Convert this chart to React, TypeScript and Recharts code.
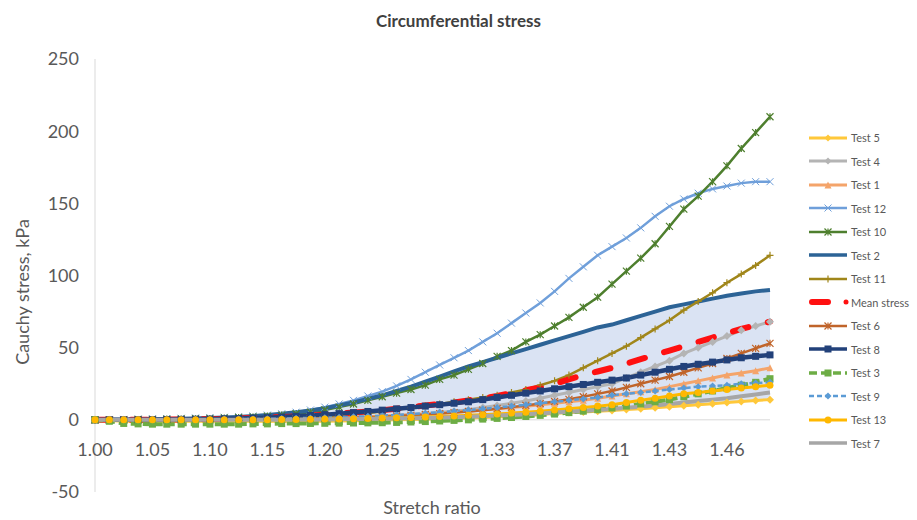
import { ComposedChart, Line, Area, XAxis, YAxis, ReferenceLine } from 'recharts'

// stretch ratio per sample (category axis, labelled every 4th)
const stretch = [
  '1.00', '1.01', '1.03', '1.04', '1.05', '1.06', '1.08', '1.09', '1.10', '1.11', '1.13', '1.14',
  '1.15', '1.16', '1.18', '1.19', '1.20', '1.21', '1.23', '1.24', '1.25', '1.26', '1.27', '1.28',
  '1.29', '1.30', '1.31', '1.32', '1.33', '1.34', '1.35', '1.36', '1.37', '1.38', '1.39', '1.40',
  '1.41', '1.41', '1.42', '1.42', '1.43', '1.44', '1.44', '1.45', '1.46', '1.46', '1.47', '1.47',
]

// Cauchy stress, kPa
const test5 = [
  0, -0.5, -1, -1, -1, -1, -1, -1, -1, -1, -1, -1,
  -1, -1, -1, -1, -1, -0.8, -0.6, -0.4, -0.2, 0, 0.2, 0.4,
  0.7, 1.0, 1.3, 1.6, 2.0, 2.5, 3.0, 3.5, 4.5, 5.0, 5.5, 6.0,
  6.5, 7.1, 7.7, 8.3, 9.0, 9.7, 10.4, 11.2, 12.0, 12.7, 13.4, 14,
]
const test4 = [
  0, 0, 0, 0, 0, 0, 0, 0.1, 0.2, 0.3, 0.4, 0.5,
  0.6, 0.7, 0.8, 1.0, 1.2, 1.4, 1.7, 2.0, 2.4, 2.9, 3.5, 4.2,
  5, 6, 7, 8.5, 10, 11.5, 13, 15, 17, 19, 21, 23,
  25, 29, 33, 37, 41, 46, 50, 54, 58, 62, 65, 68,
]
const test1 = [
  0, 0, 0, 0, 0, 0, 0.1, 0.2, 0.3, 0.4, 0.5, 0.6,
  0.7, 0.8, 1.0, 1.2, 1.4, 1.6, 1.9, 2.2, 2.6, 3.0, 3.5, 4.0,
  4.5, 5.2, 6.0, 6.8, 7.6, 8.5, 9.4, 10.5, 11.5, 12.5, 13.5, 15,
  16.5, 18, 19.5, 21, 23, 25, 27, 29, 31, 32.5, 34, 36,
]
const test12 = [
  0, 0, 0.3, 0.5, 0.7, 0.9, 1.1, 1.3, 1.5, 1.8, 2.2, 2.7,
  3.3, 4.2, 5.3, 6.8, 8.8, 11, 13.5, 16.5, 19.5, 23.5, 28, 33,
  38, 43, 48, 54, 60, 67, 74, 81, 89, 98, 106, 114,
  120, 126, 133, 141, 148, 153, 157, 160, 162, 164, 165, 165,
]
const test10 = [
  0, 0, 0, 0.2, 0.3, 0.5, 0.6, 0.8, 1.0, 1.3, 1.6, 2.0,
  2.6, 3.3, 4.2, 5.3, 6.8, 8.8, 11, 13.5, 16, 18.5, 21, 24,
  28, 31, 35, 39, 44, 48, 54, 59, 65, 71, 78, 85,
  94, 103, 112, 122, 134, 146, 155, 165, 176, 188, 199, 210,
]
const test2 = [
  0, 0, 0, 0.2, 0.4, 0.6, 0.8, 1.0, 1.3, 1.6, 2.0, 2.6,
  3.3, 4.2, 5.2, 6.5, 8, 10, 12, 14.5, 17, 20, 23, 26.5,
  30, 33.5, 37, 40, 43, 46, 49, 52, 55, 58, 61, 64,
  66, 69, 72, 75, 78, 80, 82, 84, 86, 87.5, 89, 90,
]
const test11 = [
  0, 0, 0, 0, 0, 0.1, 0.2, 0.3, 0.4, 0.5, 0.6, 0.8,
  1.0, 1.3, 1.6, 2.0, 2.6, 3.3, 4.0, 4.8, 5.8, 7.0, 8.3, 9.5,
  11, 12.5, 14, 15.5, 17, 19, 21, 24, 27, 31, 36, 41,
  46, 51, 57, 63, 69, 76, 82, 88, 95, 101, 107, 114,
]
const meanStress = [
  0, 0, 0, 0, 0.1, 0.2, 0.3, 0.4, 0.5, 0.7, 0.9, 1.2,
  1.5, 1.9, 2.4, 3.0, 3.6, 4.3, 5.0, 5.8, 6.7, 7.7, 8.8, 10,
  11, 12, 13.5, 15, 16.5, 18.5, 20.5, 22.5, 25, 28, 31, 33.5,
  36, 39, 42, 45, 48, 51, 54, 57, 60, 63, 65.5, 68,
]
const test6 = [
  0, 0, 0, 0, 0, 0, 0, 0, 0, 0.1, 0.2, 0.3,
  0.4, 0.5, 0.6, 0.8, 1.0, 1.2, 1.5, 1.8, 2.2, 2.6, 3.1, 3.7,
  4.3, 5.0, 5.8, 6.7, 7.7, 8.8, 10, 11.3, 12.7, 14.2, 16, 18,
  20, 22.5, 25, 27.5, 30, 33, 36, 39, 42.5, 46, 49.5, 53,
]
const test8 = [
  0, 0, 0, 0, 0.1, 0.2, 0.3, 0.4, 0.5, 0.7, 0.9, 1.2,
  1.5, 1.9, 2.4, 3.0, 3.6, 4.3, 5.0, 5.8, 6.7, 7.6, 8.5, 9.5,
  10.5, 11.5, 12.5, 14, 15.5, 17, 18.5, 20, 21.5, 23, 24.5, 26,
  27.5, 29, 31, 33, 35, 37, 38.5, 40, 41.5, 43, 44, 45,
]
const test3 = [
  0, -1, -2.5, -2.8, -3, -3, -3, -3, -3, -3, -3, -2.8,
  -2.8, -2.6, -2.6, -2.5, -2.4, -2.3, -2.2, -2.1, -2, -1.8, -1.5, -1.2,
  -0.8, -0.4, 0, 0.5, 1.0, 1.6, 2.3, 3.1, 4.0, 5.0, 6.0, 7.0,
  8.2, 9.5, 11, 12.5, 14, 16, 18, 20, 22, 24, 26, 28.5,
]
const test9 = [
  0, 0, 0, 0, 0, 0, 0.1, 0.2, 0.3, 0.4, 0.5, 0.6,
  0.7, 0.9, 1.1, 1.3, 1.5, 1.8, 2.1, 2.5, 2.9, 3.4, 4.0, 4.6,
  5.3, 6.0, 6.8, 7.6, 8.5, 9.5, 10.5, 11.5, 12.5, 13.5, 14.5, 15.5,
  17, 18, 19, 20, 21, 22, 23, 23.5, 24, 25, 25.5, 26,
]
const test13 = [
  0, 0, 0, 0, 0, 0, 0, 0, 0, 0, 0, 0,
  0.1, 0.2, 0.3, 0.4, 0.5, 0.6, 0.8, 1.0, 1.2, 1.4, 1.7, 2.0,
  2.3, 2.7, 3.1, 3.6, 4.1, 4.7, 5.3, 6.0, 6.8, 7.6, 8.5, 9.5,
  10.5, 12, 13.5, 15, 16.5, 18, 19, 20, 21, 22, 23, 24,
]
const test7 = [
  0, 0, 0, 0, 0, 0, 0, 0, 0, 0, 0, 0,
  0.1, 0.1, 0.2, 0.2, 0.3, 0.4, 0.5, 0.6, 0.7, 0.9, 1.1, 1.3,
  1.5, 1.8, 2.1, 2.5, 3.0, 3.4, 3.9, 4.4, 5.0, 5.6, 6.2, 6.8,
  7.5, 8.3, 9.1, 10, 11, 12, 13, 14, 15, 16.3, 17.6, 19,
]

const yTicks = [-50, 0, 50, 100, 150, 200, 250]

type Shape = 'diamond' | 'triangle' | 'x' | 'star' | 'plus' | 'square' | 'circle' | 'none'

const series: {
  key: string
  name: string
  values: number[]
  color: string
  width: number
  dash?: string
  marker: Shape
  markerSize?: number
  cap?: 'round' | 'butt'
}[] = [
  { key: 't5', name: 'Test 5', values: test5, color: '#FFC83A', width: 3, marker: 'diamond', markerSize: 8 },
  { key: 't4', name: 'Test 4', values: test4, color: '#B4B4B4', width: 3, marker: 'diamond', markerSize: 8 },
  { key: 't1', name: 'Test 1', values: test1, color: '#F4A46A', width: 3, marker: 'triangle', markerSize: 7 },
  { key: 't12', name: 'Test 12', values: test12, color: '#6F9FDA', width: 2.5, marker: 'x', markerSize: 7 },
  { key: 't10', name: 'Test 10', values: test10, color: '#4E7F2E', width: 2.5, marker: 'star', markerSize: 7 },
  { key: 't2', name: 'Test 2', values: test2, color: '#2C6396', width: 4, marker: 'none' },
  { key: 't11', name: 'Test 11', values: test11, color: '#A0861A', width: 2.5, marker: 'plus', markerSize: 7 },
  { key: 'mean', name: 'Mean stress', values: meanStress, color: '#FF1010', width: 6, dash: '16 20', marker: 'none', cap: 'round' },
  { key: 't6', name: 'Test 6', values: test6, color: '#C0642A', width: 2.5, marker: 'star', markerSize: 7 },
  { key: 't8', name: 'Test 8', values: test8, color: '#22417A', width: 4.5, marker: 'square', markerSize: 7 },
  { key: 't3', name: 'Test 3', values: test3, color: '#6DAD45', width: 4, dash: '8 4', marker: 'square', markerSize: 7 },
  { key: 't9', name: 'Test 9', values: test9, color: '#5B9BD5', width: 2.5, dash: '5 3', marker: 'diamond', markerSize: 7 },
  { key: 't13', name: 'Test 13', values: test13, color: '#FFB800', width: 3, marker: 'circle', markerSize: 7 },
  { key: 't7', name: 'Test 7', values: test7, color: '#A6A6A6', width: 4, marker: 'none' },
]

const data = stretch.map((s, i) => {
  const row: Record<string, any> = { stretch: s, band: [test5[i], test2[i]] }
  series.forEach((sr) => {
    row[sr.key] = sr.values[i]
  })
  return row
})

const FONT = 'Lato, "Liberation Sans", Arial, sans-serif'
const TEXT = '#595959'

const CHART_W = 917
const CHART_H = 520
const PLOT_TOP = 59
const PLOT_BOTTOM = 492
const Y_MIN = -50
const Y_MAX = 250
const ZERO_Y = PLOT_TOP + ((PLOT_BOTTOM - PLOT_TOP) * Y_MAX) / (Y_MAX - Y_MIN)

function Marker({ cx, cy, shape, color, size = 6 }: { cx: number; cy: number; shape: Shape; color: string; size?: number }) {
  const h = size / 2
  switch (shape) {
    case 'diamond':
      return <path d={`M${cx},${cy - h}L${cx + h},${cy}L${cx},${cy + h}L${cx - h},${cy}Z`} fill={color} />
    case 'triangle':
      return <path d={`M${cx},${cy - h}L${cx + h},${cy + h}L${cx - h},${cy + h}Z`} fill={color} />
    case 'square':
      return <rect x={cx - h} y={cy - h} width={size} height={size} fill={color} />
    case 'circle':
      return <circle cx={cx} cy={cy} r={h} fill={color} />
    case 'x':
      return (
        <path
          d={`M${cx - h},${cy - h}L${cx + h},${cy + h}M${cx + h},${cy - h}L${cx - h},${cy + h}`}
          stroke={color}
          strokeWidth={1}
          fill="none"
        />
      )
    case 'plus':
      return <path d={`M${cx},${cy - h}L${cx},${cy + h}M${cx - h},${cy}L${cx + h},${cy}`} stroke={color} strokeWidth={1.2} fill="none" />
    case 'star':
      return (
        <path
          d={`M${cx - h},${cy - h}L${cx + h},${cy + h}M${cx + h},${cy - h}L${cx - h},${cy + h}M${cx},${cy - h}L${cx},${cy + h}`}
          stroke={color}
          strokeWidth={1.2}
          fill="none"
        />
      )
    default:
      return null
  }
}

// category labels sit just under the zero line instead of the plot bottom
function StretchTick(props: any) {
  const { x, y, payload } = props
  const lift = PLOT_BOTTOM - ZERO_Y
  return (
    <text x={x} y={y - 8 - lift + 36} textAnchor="middle" fill={TEXT} fontSize={18} fontFamily={FONT}>
      {payload.value}
    </text>
  )
}

function SeriesLegend() {
  return (
    <div style={{ position: 'absolute', left: 808, top: 126, fontFamily: FONT, fontSize: 11, color: TEXT }}>
      {series.map((s) => {
        const isMean = s.key === 'mean'
        const legendShape: Shape = isMean ? 'circle' : s.marker
        return (
          <div key={s.key} style={{ display: 'flex', alignItems: 'center', height: 23.5 }}>
            <svg width={42} height={12} style={{ marginRight: 1 }}>
              <line
                x1={isMean ? 4 : 1}
                y1={6}
                x2={isMean ? 20 : 39}
                y2={6}
                stroke={s.color}
                strokeWidth={isMean ? 6 : Math.min(s.width, 3.5)}
                strokeDasharray={isMean ? undefined : s.dash}
                strokeLinecap={isMean ? 'round' : 'butt'}
              />
              <Marker cx={isMean ? 38 : 20} cy={6} shape={legendShape} color={s.color} size={isMean ? 5 : 7} />
            </svg>
            <span>{s.name}</span>
          </div>
        )
      })}
    </div>
  )
}

export default function App() {
  return (
    <div style={{ position: 'absolute', left: 0, top: 0, width: CHART_W, height: CHART_H, background: '#fff', overflow: 'hidden' }}>
      <div
        style={{
          position: 'absolute',
          top: 10,
          left: 0,
          width: CHART_W,
          textAlign: 'center',
          fontFamily: FONT,
          fontWeight: 700,
          fontSize: 17,
          color: '#404040',
        }}
      >
        Circumferential stress
      </div>
      <ComposedChart
        width={CHART_W}
        height={CHART_H}
        data={data}
        margin={{ top: PLOT_TOP, right: 147, bottom: CHART_H - PLOT_BOTTOM - 20, left: 35 }}
      >
        <XAxis
          dataKey="stretch"
          interval={3}
          axisLine={false}
          tickLine={false}
          height={20}
          tick={<StretchTick />}
        />
        <YAxis
          domain={[Y_MIN, Y_MAX]}
          ticks={yTicks}
          width={60}
          axisLine={{ stroke: '#D9D9D9' }}
          tickLine={false}
          tickMargin={10}
          tick={{ fill: TEXT, fontSize: 18, fontFamily: FONT }}
        />
        <Area dataKey="band" type="linear" stroke="none" fill="#DAE3F3" fillOpacity={1} isAnimationActive={false} />
        <ReferenceLine y={0} stroke="#D9D9D9" strokeWidth={1} />
        {series.map((s) => (
          <Line
            key={s.key}
            dataKey={s.key}
            name={s.name}
            type="linear"
            stroke={s.color}
            strokeWidth={s.width}
            strokeDasharray={s.dash}
            strokeLinecap={s.cap ?? 'butt'}
            dot={
              s.marker === 'none'
                ? false
                : (p: any) => (
                    <Marker key={`${s.key}-${p.index}`} cx={p.cx} cy={p.cy} shape={s.marker} color={s.color} size={s.markerSize} />
                  )
            }
            activeDot={false}
            isAnimationActive={false}
          />
        ))}
      </ComposedChart>
      <div
        style={{
          position: 'absolute',
          left: 22,
          top: 292,
          transform: 'translate(-50%, -50%) rotate(-90deg)',
          whiteSpace: 'nowrap',
          lineHeight: 1,
          fontFamily: FONT,
          fontSize: 18,
          color: TEXT,
        }}
      >
        Cauchy stress, kPa
      </div>
      <div
        style={{
          position: 'absolute',
          left: 432,
          top: 497,
          transform: 'translateX(-50%)',
          whiteSpace: 'nowrap',
          lineHeight: '20px',
          fontFamily: FONT,
          fontSize: 18,
          color: TEXT,
        }}
      >
        Stretch ratio
      </div>
      <SeriesLegend />
    </div>
  )
}
